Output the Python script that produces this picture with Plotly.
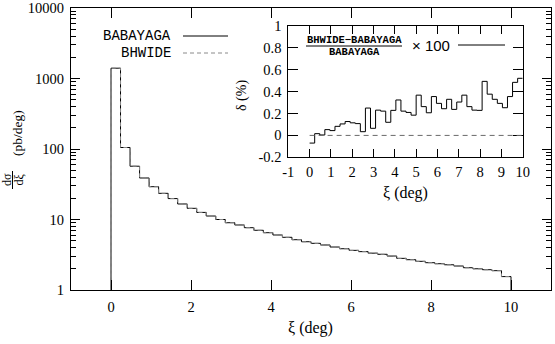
import numpy as np
import plotly.graph_objects as go

# histogram binning of xi (deg)
xi_min, xi_max, n_bins = 0.0, 10.0, 42

# d sigma / d xi (pb/deg), one value per bin
babayaga_dsig = [1400, 105, 57, 38.8, 29.2, 23.5, 19.8, 16.6, 14.4, 12.6,
                 11.2, 10.0, 9.0, 8.36, 7.65, 7.03, 6.5, 6.03, 5.59, 5.17,
                 4.84, 4.59, 4.35, 4.07, 3.85, 3.65, 3.5, 3.33, 3.21, 3.03,
                 2.81, 2.69, 2.55, 2.44, 2.36, 2.28, 2.19, 2.07, 2.0, 1.94,
                 1.88, 1.55]
# BHWIDE lies on top of BABAYAGA at this scale (differences < 0.5 %)
bhwide_dsig = [1400, 105, 57, 38.8, 29.2, 23.5, 19.8, 16.6, 14.4, 12.6,
               11.2, 10.0, 9.0, 8.36, 7.65, 7.03, 6.5, 6.03, 5.59, 5.17,
               4.84, 4.59, 4.35, 4.07, 3.85, 3.65, 3.5, 3.33, 3.21, 3.03,
               2.81, 2.69, 2.55, 2.44, 2.36, 2.28, 2.19, 2.07, 2.0, 1.94,
               1.88, 1.55]

# relative difference (BHWIDE-BABAYAGA)/BABAYAGA x 100, one value per bin
delta_pct = [-0.07, 0.016, 0.004, 0.053, 0.044, 0.083, 0.105, 0.127, 0.115, 0.108,
             0.034, 0.25, 0.065, 0.231, 0.222, 0.12, 0.229, 0.324, 0.222, 0.21,
             0.185, 0.368, 0.263, 0.207, 0.355, 0.293, 0.244, 0.33, 0.238, 0.305,
             0.368, 0.263, 0.231, 0.229, 0.494, 0.377, 0.33, 0.293, 0.253, 0.355,
             0.485, 0.522]

main_xticks = [0, 2, 4, 6, 8, 10]
main_yticks = [1, 10, 100, 1000, 10000]
main_yticklabels = ['1', '10', '100', '1000', '10000']
inset_xticks = list(range(-1, 11))
inset_xticklabels = [str(v) for v in inset_xticks]
inset_yticks = [-0.2, 0, 0.2, 0.4, 0.6, 0.8, 1]
inset_yticklabels = ['-0.2', '0', '0.2', '0.4', '0.6', '0.8', '1']

W, H = 555, 344
ML, MR, MT, MB = 71, 4, 8, 54
PW, PH = W - ML - MR, H - MT - MB

SERIF = "'Liberation Serif', 'Times New Roman', Times, 'DejaVu Serif', serif"
MONO = "'Liberation Mono', 'Courier New', Courier, 'DejaVu Sans Mono', monospace"
SANS = "'Liberation Sans', Arial, Helvetica, 'DejaVu Sans', sans-serif"

edges = np.linspace(xi_min, xi_max, n_bins + 1)


def step_xy(values, floor=None):
    x = list(edges[:-1]) + [edges[-1]]
    y = list(values) + [values[-1]]
    if floor is not None:
        x = [edges[0]] + x + [edges[-1]]
        y = [floor] + y + [floor]
    return x, y


def px(X, Y):
    # pixel position -> paper coords of the main plot area
    return (X - ML) / PW, (MT + PH - Y) / PH


fig = go.Figure()

x, y = step_xy(babayaga_dsig, floor=1e-3)
fig.add_trace(go.Scatter(x=x, y=y, mode='lines', line_shape='hv',
                         line=dict(color='black', width=1), name='BABAYAGA'))
x, y = step_xy(bhwide_dsig, floor=1e-3)
fig.add_trace(go.Scatter(x=x, y=y, mode='lines', line_shape='hv',
                         line=dict(color='#8a8a8a', width=1, dash='4px,3px'), name='BHWIDE'))
x, y = step_xy(delta_pct)
fig.add_trace(go.Scatter(x=x, y=y, mode='lines', line_shape='hv', xaxis='x2', yaxis='y2',
                         line=dict(color='black', width=1)))

axis_common = dict(showline=True, linecolor='black', linewidth=1, mirror='ticks',
                   ticks='inside', tickcolor='black', showgrid=False, zeroline=False,
                   automargin=False, ticklabeloverflow='allow',
                   tickfont=dict(family=SERIF, size=14.5, color='black'))

ix0, iy1 = px(288.3, 26)
ix1, iy0 = px(522.7, 157.3)

fig.update_layout(
    template='none',
    width=W, height=H,
    margin=dict(l=ML, r=MR, t=MT, b=MB, pad=0),
    font=dict(family=SERIF, size=16, color='black'),
    paper_bgcolor='white', plot_bgcolor='white',
    showlegend=False,
    xaxis=dict(range=[-1, 11], tickvals=main_xticks, ticklen=10,
               ticklabelstandoff=4, **axis_common),
    yaxis=dict(type='log', range=[0, 4], tickvals=main_yticks, ticktext=main_yticklabels,
               ticklen=9, ticklabelstandoff=3,
               minor=dict(ticks='inside', ticklen=5, tickcolor='black', showgrid=False,
                          tickmode='array',
                          tickvals=[m * 10 ** k for k in range(4) for m in range(2, 10)]),
               **axis_common),
    xaxis2=dict(domain=[ix0, ix1], anchor='y2', range=[-1, 10], tickvals=inset_xticks,
                ticktext=inset_xticklabels, ticklen=8, ticklabelstandoff=1, **axis_common),
    yaxis2=dict(domain=[iy0, iy1], anchor='x2', range=[-0.2, 1], tickvals=inset_yticks,
                ticktext=inset_yticklabels, ticklen=10, ticklabelstandoff=3, **axis_common),
)

# zero line of the inset
fig.add_shape(type='line', xref='x2', yref='y2', x0=edges[0], x1=edges[-1], y0=0, y1=0,
              line=dict(color='#6a6a6a', width=1, dash='5px,4px'))

ann = []


def text(X, Y, s, size=16, family=SERIF, angle=0, xanchor='center'):
    xp, yp = px(X, Y)
    ann.append(dict(x=xp, y=yp, xref='paper', yref='paper', text=s, showarrow=False,
                    textangle=angle, xanchor=xanchor, yanchor='middle',
                    font=dict(family=family, size=size, color='black')))


def seg(X0, Y0, X1, Y1, dash='solid', color='black'):
    x0, y0 = px(X0, Y0)
    x1, y1 = px(X1, Y1)
    fig.add_shape(type='line', xref='paper', yref='paper', x0=x0, y0=y0, x1=x1, y1=y1,
                  line=dict(color=color, width=1, dash=dash))


# axis titles
text(310, 328, 'ξ (deg)')
text(17, 133, '(pb/deg)', size=13.5, angle=-90)
text(7, 180, 'dσ', size=12, angle=-90)
text(18.5, 180, 'dξ', size=12, angle=-90)
seg(12.5, 171, 12.5, 189)
text(405, 193, 'ξ (deg)')
text(242, 96, 'δ (%)', size=14, angle=-90)

# main legend
text(173, 36, 'BABAYAGA', size=14, family=MONO, xanchor='right')
seg(183, 36, 228, 36)
text(173, 53, 'BHWIDE', size=14, family=MONO, xanchor='right')
seg(183, 53, 228, 53, dash='4px,3px', color='#8a8a8a')

# inset legend
text(354, 40, '<b>BHWIDE−BABAYAGA</b>', size=10.5, family=MONO)
seg(306, 46, 402, 46)
text(354, 52.5, '<b>BABAYAGA</b>', size=10.5, family=MONO)
text(410, 45.5, '× 100', size=15, family=SANS, xanchor='left')
seg(458, 45, 505, 45)

fig.update_layout(annotations=ann)

# the page body has a default 8px margin; drop it so the figure fills the window
fig.write_html("out.html", config={'displayModeBar': False},
               post_script="document.body.style.margin = '0';")
